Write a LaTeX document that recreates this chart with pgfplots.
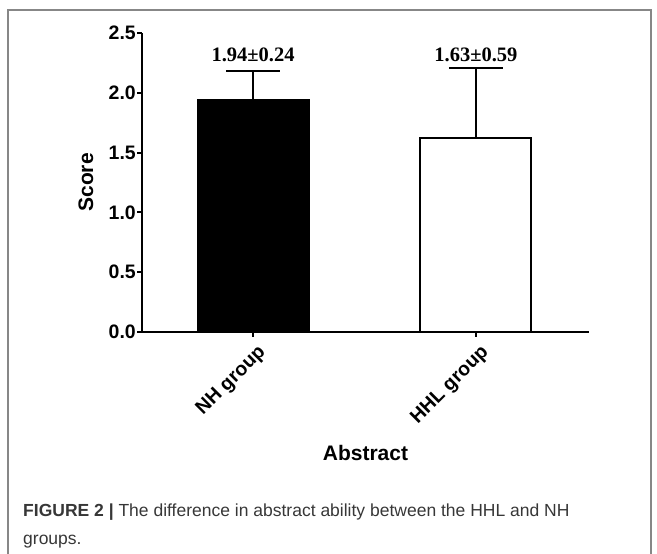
\documentclass[border=0pt]{standalone}
\usepackage{fontspec}
\setmainfont{Liberation Sans}
\newfontfamily\timesfont{Liberation Serif}
\usepackage{pgfplots}
\pgfplotsset{compat=1.18}
\definecolor{framegray}{RGB}{135,135,135}
\definecolor{capgray}{RGB}{55,55,55}

\begin{document}
\begin{tikzpicture}[x=1pt,y=1pt]
  % page size and the outer frame
  \path[use as bounding box] (0,0) rectangle (657,554);
  \draw[framegray, line width=1.6pt] (8,0) -- (8,544) -- (651,544) -- (651,0);

  \begin{axis}[
    at={(142pt,222pt)}, anchor=south west,
    scale only axis, width=447pt, height=299pt,
    xmin=-0.498, xmax=1.507,
    ymin=0, ymax=2.5,
    axis x line*=bottom, axis y line*=left,
    axis line style={-, line width=2.2pt},
    every tick/.style={black, line width=2pt},
    tick align=outside, major tick length=5pt,
    xtick={0,1}, xticklabels={NH group, HHL group},
    ytick={0,0.5,1,1.5,2,2.5},
    yticklabel style={/pgf/number format/fixed, /pgf/number format/precision=1,
                      /pgf/number format/fixed zerofill, inner sep=1pt},
    /pgf/number format/assume math mode=true,
    tick label style={font=\bfseries\fontsize{19.5}{19.5}\selectfont},
    xticklabel style={rotate=45, anchor=north east, inner sep=2pt, yshift=-5pt},
    every axis y label/.style={at={(axis description cs:0,0.5)}, xshift=-56pt,
                               rotate=90, anchor=center},
    every axis x label/.style={at={(axis description cs:0.5,0)}, yshift=-121pt,
                               anchor=center},
    ylabel={\bfseries\fontsize{21}{21}\selectfont Score},
    xlabel={\bfseries\fontsize{21}{21}\selectfont Abstract},
    ybar, bar width=111pt, bar shift=0pt,
    clip=false,
  ]
    % NH group: mean 1.94, SD 0.24
    \addplot[fill=black, draw=black, line width=2pt,
             error bars/.cd, y dir=plus, y explicit,
             error bar style={line width=2pt, black},
             error mark options={rotate=90, mark size=27pt, line width=2pt, black}]
      coordinates {(0,1.94) +- (0,0.24)};
    % HHL group: mean 1.63, SD 0.59
    \addplot[fill=white, draw=black, line width=2pt,
             error bars/.cd, y dir=plus, y explicit,
             error bar style={line width=2pt, black},
             error mark options={rotate=90, mark size=27pt, line width=2pt, black}]
      coordinates {(1,1.62) +- (0,0.59)};

    \node[font=\timesfont\bfseries\fontsize{20.5}{20.5}\selectfont]
      at (axis cs:0,2.32) {1.94±0.24};
    \node[font=\timesfont\bfseries\fontsize{20.5}{20.5}\selectfont]
      at (axis cs:1,2.32) {1.63±0.59};
  \end{axis}

  \node[anchor=base west, inner sep=0pt, text=capgray, align=left,
        font=\fontsize{17.5}{28}\selectfont] at (23,9)
    {\textbf{FIGURE 2 |} The difference in abstract ability between the HHL and NH\\groups.};
\end{tikzpicture}
\end{document}
